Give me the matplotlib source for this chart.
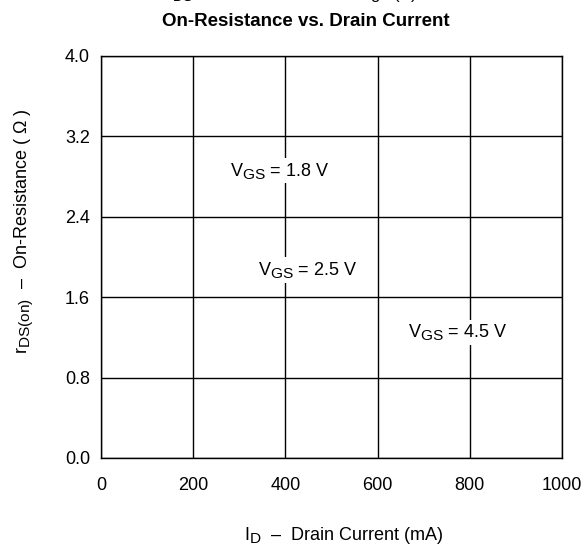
import matplotlib
matplotlib.use("Agg")
import matplotlib.pyplot as plt
import matplotlib._mathtext as _mt

# larger subscripts, closer to the reference typography
_mt.SHRINK_FACTOR = 0.85

plt.rcParams['font.family'] = ['Liberation Sans', 'DejaVu Sans']
plt.rcParams['mathtext.fontset'] = 'custom'
plt.rcParams['mathtext.rm'] = 'Liberation Sans'
plt.rcParams['mathtext.it'] = 'Liberation Sans'
plt.rcParams['mathtext.bf'] = 'Liberation Sans:bold'

x_ticks = [0, 200, 400, 600, 800, 1000]
y_ticks = [0.0, 0.8, 1.6, 2.4, 3.2, 4.0]
y_tick_labels = ["0.0", "0.8", "1.6", "2.4", "3.2", "4.0"]
curve_labels = ["V$_{\\mathrm{GS}}$ = 1.8 V", "V$_{\\mathrm{GS}}$ = 2.5 V", "V$_{\\mathrm{GS}}$ = 4.5 V"]
label_x = [388, 449, 774]
label_y = [2.81, 1.82, 1.20]

FS = 13

fig = plt.figure(figsize=(5.87, 5.48), dpi=100)
ax = fig.add_axes([101/587, 1-458/548, 461/587, 402/548])
ax.set_xlim(0, 1000)
ax.set_ylim(0, 4.0)
ax.set_xticks(x_ticks)
ax.set_xticklabels([str(v) for v in x_ticks])
ax.set_yticks(y_ticks)
ax.set_yticklabels(y_tick_labels)
ax.tick_params(length=0, labelsize=FS)
ax.tick_params(axis='x', pad=14)
ax.tick_params(axis='y', pad=8)
ax.grid(True, color='black', linewidth=1)
for s in ax.spines.values():
    s.set_color('black')
    s.set_linewidth(1)

for t, xv, yv in zip(curve_labels, label_x, label_y):
    ax.text(xv, yv, t, ha='center', va='baseline', fontsize=FS,
            bbox=dict(facecolor='white', edgecolor='none', pad=2))

fig.text(344/587, 1-536/548, "I$_{\\mathrm{D}}$  \u2013  Drain Current (mA)",
         ha='center', va='center', fontsize=FS)
fig.text(24/587, 1-231/548, "r$_{\\mathrm{DS(on)}}$  \u2013  On-Resistance ( \u03a9 )",
         ha='center', va='center', rotation=90, fontsize=FS)
fig.text(306/587, 1-21/548, "On-Resistance vs. Drain Current",
         ha='center', va='center', fontsize=13.5, fontweight='bold')
fig.text(289/587, 1+1/548, "V$_{\\mathrm{DS}}$ \u2013 Drain-to-Source Voltage (V)",
         ha='center', va='baseline', fontsize=12)

fig.savefig("out.png", dpi=100)
